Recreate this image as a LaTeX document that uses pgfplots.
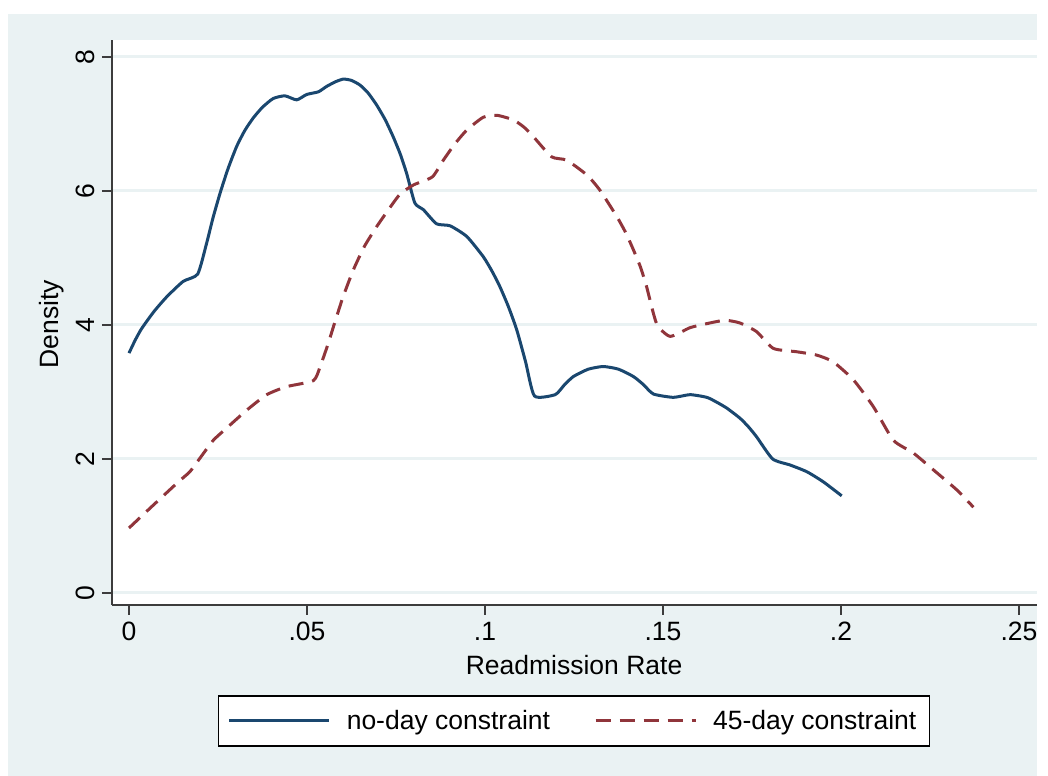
\documentclass[border=0pt]{standalone}
\usepackage{pgfplots}
\pgfplotsset{compat=1.18}
\usepackage{fontspec}
\setmainfont{Liberation Sans}
\definecolor{bgc}{RGB}{234,242,243}
\definecolor{gridc}{RGB}{234,242,243}
\definecolor{navyc}{RGB}{26,71,111}
\definecolor{maroonc}{RGB}{144,53,59}
\definecolor{axc}{RGB}{60,60,60}
\pgfplotstableread{
x y
0 3.58
0.0018 3.78
0.0036 3.95
0.0070 4.20
0.0106 4.42
0.0152 4.65
0.0193 4.76
0.0218 5.22
0.0236 5.60
0.0256 5.97
0.0278 6.33
0.0302 6.66
0.0325 6.90
0.0349 7.09
0.0375 7.25
0.0405 7.38
0.0438 7.42
0.0471 7.36
0.0499 7.44
0.0532 7.48
0.0555 7.56
0.0580 7.63
0.0602 7.67
0.0625 7.65
0.0649 7.58
0.0672 7.46
0.0696 7.28
0.0720 7.06
0.0742 6.81
0.0762 6.55
0.0780 6.26
0.0803 5.82
0.0827 5.72
0.0864 5.51
0.0902 5.48
0.0949 5.32
0.0995 5.02
0.1020 4.80
0.1042 4.57
0.1066 4.27
0.1089 3.93
0.1114 3.45
0.1139 2.94
0.1197 2.96
0.1222 3.10
0.1248 3.23
0.1290 3.34
0.1332 3.38
0.1375 3.34
0.1417 3.23
0.1445 3.11
0.1473 2.97
0.1529 2.92
0.1576 2.96
0.1623 2.92
0.1650 2.85
0.1679 2.76
0.1716 2.61
0.1740 2.48
0.1763 2.33
0.1808 2.00
0.1857 1.91
0.1904 1.81
0.1950 1.66
0.2002 1.45
}\nodaytab
\pgfplotstableread{
x y
0 0.97
0.0068 1.31
0.0139 1.66
0.0171 1.81
0.0199 2.01
0.0237 2.28
0.0274 2.46
0.0331 2.73
0.0387 2.96
0.0443 3.08
0.0518 3.17
0.0537 3.38
0.0560 3.73
0.0574 3.97
0.0600 4.40
0.0630 4.82
0.0662 5.18
0.0696 5.47
0.0730 5.73
0.0761 5.95
0.0799 6.09
0.0852 6.21
0.0883 6.46
0.0915 6.70
0.0949 6.91
0.0995 7.10
0.1033 7.13
0.1080 7.06
0.1110 6.95
0.1136 6.81
0.1187 6.51
0.1229 6.46
0.1286 6.24
0.1323 6.01
0.1370 5.62
0.1395 5.38
0.1417 5.12
0.1437 4.86
0.1454 4.57
0.1482 4.02
0.1520 3.83
0.1576 3.96
0.1623 4.02
0.1674 4.07
0.1716 4.03
0.1763 3.90
0.1810 3.65
0.1876 3.60
0.1932 3.55
0.1978 3.45
0.2035 3.18
0.2091 2.78
0.2147 2.28
0.2203 2.09
0.2259 1.84
0.2325 1.54
0.2372 1.28
}\fdaytab
\begin{document}
\begin{tikzpicture}[x=0.5bp,y=0.5bp]
\fill[white] (0,0) rectangle (1048,776);
\fill[bgc] (8,0) rectangle (1037,762);
\begin{axis}[
  at={(56bp,85.5bp)}, anchor=south west,
  scale only axis, width=462.5bp, height=282.5bp,
  xmin=-0.004775, xmax=0.25506,
  ymin=-0.1791, ymax=8.2537,
  axis x line*=bottom, axis y line*=left,
  axis line style={color=axc, line width=1.2bp},
  axis background/.style={fill=white},
  tick align=outside,
  major tick length=5bp,
  tick style={color=axc, line width=1bp},
  xtick={0,0.05,0.1,0.15,0.2,0.25},
  xticklabels={0,.05,.1,.15,.2,.25},
  ytick={0,2,4,6,8},
  yticklabels={0,2,4,6,8},
  yticklabel style={rotate=90, anchor=south},
  ymajorgrids, grid style={color=gridc, line width=1.5bp},
  tick label style={font=\fontsize{13.3}{16}\selectfont},
  label style={font=\fontsize{13.3}{16}\selectfont},
  xlabel={Readmission Rate},
  ylabel={Density},
  xlabel style={at={(axis description cs:0.4995,-0.1062)}, anchor=center},
  ylabel style={at={(axis description cs:-0.0649,0.497)}, anchor=center, rotate=0},
  legend columns=2,
  legend style={at={(0.4995,-0.2053)}, anchor=center, draw=black, line width=0.6bp,
    font=\fontsize{13.3}{16}\selectfont, inner xsep=4.5bp, inner ysep=5bp,
    /tikz/every odd column/.append style={column sep=6bp},
    /tikz/every even column/.append style={column sep=20bp}},
  legend image code/.code={\draw[#1] (0bp,0bp) -- (50bp,0bp);},
]
\addplot[navyc, line width=1.5bp, smooth, tension=0.35] table[x=x,y=y] {\nodaytab};
\addlegendentry{no-day constraint}
\addplot[maroonc, line width=1.5bp, smooth, tension=0.35, dash pattern=on 7.5bp off 4.5bp] table[x=x,y=y] {\fdaytab};
\addlegendentry{45-day constraint}
\end{axis}
\end{tikzpicture}
\end{document}
